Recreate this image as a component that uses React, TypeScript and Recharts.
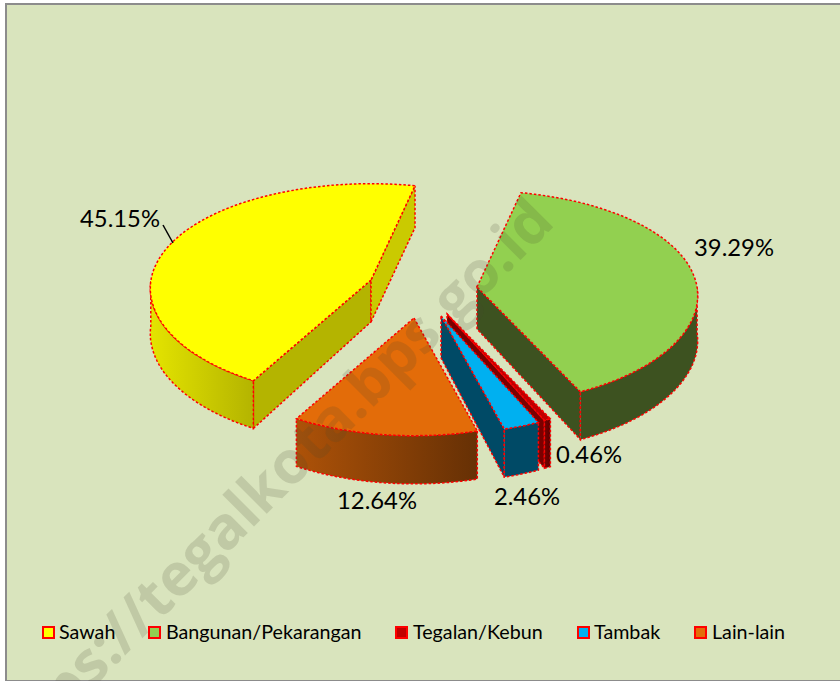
import { PieChart, Pie, Legend } from "recharts";

const names = ["Sawah", "Bangunan/Pekarangan", "Tegalan/Kebun", "Tambak", "Lain-lain"];
const shares = [45.15, 39.29, 0.46, 2.46, 12.64];
const topColors = ["#FFFF00", "#92D050", "#C00000", "#00B0F0", "#E36C09"];

const data = names.map((name, i) => ({ name, value: shares[i], fill: topColors[i] }));

// how far each slice is pulled away from the pie centre, plus its side colours
const sliceStyles = [
  { dx: -52, dy: -20, rimFrom: "#E4E400", rimTo: "#B4B400", startWall: "#B4B400", endWall: "#CACA00" },
  { dx: 54, dy: -13, rimFrom: "#3D5220", rimTo: "#3D5220", startWall: "#3D5220", endWall: "#3D5220" },
  { dx: 24, dy: 14, rimFrom: "#7A0000", rimTo: "#5A0000", startWall: "#7A0000", endWall: "#7A0000" },
  { dx: 18, dy: 16, rimFrom: "#004A66", rimTo: "#004A66", startWall: "#004A66", endWall: "#004A66" },
  { dx: -9, dy: 18, rimFrom: "#AD5208", rimTo: "#663005", startWall: "#8A4206", endWall: "#8A4206" },
];

const labelSpots = [
  { x: 120, y: 218 },
  { x: 734, y: 247 },
  { x: 589, y: 454 },
  { x: 527, y: 496 },
  { x: 377, y: 500 },
];

const legendSpots = [
  { icon: 42, text: 59 },
  { icon: 148, text: 166 },
  { icon: 395, text: 413 },
  { icon: 577, text: 594 },
  { icon: 694, text: 712 },
];

const PIE_X = 423;
const PIE_Y = 300;
const RADIUS_X = 220;
const RADIUS_Y = 107;
const WALL = 45;
const FONT = "Lato, sans-serif";

function project(angle: number, ax: number, ay: number) {
  const rad = (angle * Math.PI) / 180;
  const ux = Math.cos(rad);
  const uy = -Math.sin(rad);
  return {
    x: ax + RADIUS_X * ux * (1 + 0.08 * uy),
    y: ay + RADIUS_Y * uy * (1 + 0.1 * uy),
    drop: WALL * (1 + 0.07 * uy),
  };
}

const toPath = (pts: { x: number; y: number }[]) =>
  pts.map((p, i) => `${i ? "L" : "M"}${p.x.toFixed(1)} ${p.y.toFixed(1)}`).join(" ") + " Z";

function Slice3D(props: any) {
  const i = names.indexOf(props.name);
  const style = sliceStyles[i];
  const ax = props.cx + style.dx;
  const ay = props.cy + style.dy;
  const { startAngle, endAngle } = props;

  const steps = Math.max(3, Math.ceil(Math.abs(endAngle - startAngle) / 2));
  const arc = [];
  for (let s = 0; s <= steps; s++) {
    arc.push(project(startAngle + ((endAngle - startAngle) * s) / steps, ax, ay));
  }
  const first = arc[0];
  const last = arc[arc.length - 1];
  const mid = arc[Math.floor(steps / 2)];
  const apex = { x: ax, y: ay };
  const apexDrop = WALL * 0.93;

  const wallShows = (edge: { x: number; y: number }) => {
    const side = (px: number, py: number) =>
      (edge.x - apex.x) * (py - apex.y) - (edge.y - apex.y) * (px - apex.x);
    return side(apex.x, apex.y + apexDrop) * side(mid.x, mid.y) < 0;
  };
  const wallPath = (edge: any) =>
    toPath([apex, edge, { x: edge.x, y: edge.y + edge.drop }, { x: apex.x, y: apex.y + apexDrop }]);

  const front = arc.filter((p) => p.y > ay);
  const rim = [...front, ...[...front].reverse().map((p) => ({ x: p.x, y: p.y + p.drop }))];
  const gradId = `rim-${i}`;
  const dash = { stroke: "#FF0000", strokeWidth: 1.5, strokeDasharray: "2.5 2" };

  return (
    <g>
      <defs>
        <linearGradient id={gradId} x1="0" y1="0" x2="1" y2="0">
          <stop offset="0%" stopColor={style.rimFrom} />
          <stop offset="100%" stopColor={style.rimTo} />
        </linearGradient>
      </defs>
      {wallShows(first) && <path d={wallPath(first)} fill={style.startWall} {...dash} />}
      {wallShows(last) && <path d={wallPath(last)} fill={style.endWall} {...dash} />}
      {front.length > 1 && <path d={toPath(rim)} fill={`url(#${gradId})`} {...dash} />}
      <path d={toPath([apex, ...arc])} fill={props.fill} {...dash} />
    </g>
  );
}

function SliceLabel(props: any) {
  const i = names.indexOf(props.name);
  const spot = labelSpots[i];
  return (
    <g>
      {i === 0 && <line x1={163} y1={225} x2={173} y2={243} stroke="#000" strokeWidth={1.5} />}
      <text x={spot.x} y={spot.y} textAnchor="middle" dominantBaseline="central" fill="#000" fontFamily={FONT} fontSize={23.8}>
        {shares[i].toFixed(2)}%
      </text>
    </g>
  );
}

function LegendRow({ payload }: any) {
  return (
    <div style={{ position: "relative", height: 26, fontFamily: FONT, fontSize: 19.7, color: "#000" }}>
      {(payload || []).map((entry: any) => {
        const i = names.indexOf(entry.value);
        return (
          <span key={entry.value}>
            <span
              style={{
                position: "absolute",
                left: legendSpots[i].icon,
                top: 6,
                width: 9,
                height: 9,
                background: topColors[i],
                border: "2px solid #FF0000",
              }}
            />
            <span style={{ position: "absolute", left: legendSpots[i].text, top: 0, whiteSpace: "nowrap" }}>{entry.value}</span>
          </span>
        );
      })}
    </div>
  );
}

export default function App() {
  return (
    <div style={{ position: "absolute", left: 0, top: 0, width: 840, height: 681, overflow: "hidden", background: "#fff" }}>
      <div
        style={{
          position: "absolute",
          left: 5,
          top: 3,
          width: 835,
          height: 675,
          background: "#D9E4BD",
          borderLeft: "2px solid #8C8C8C",
          borderTop: "2px solid #8C8C8C",
          borderBottom: "2px solid #8C8C8C",
        }}
      />
      <div style={{ position: "absolute", left: 0, top: 0 }}>
        <PieChart width={840} height={681} margin={{ top: 0, right: 0, bottom: 0, left: 0 }}>
          <Pie
            data={data}
            dataKey="value"
            nameKey="name"
            cx={PIE_X}
            cy={PIE_Y}
            outerRadius={RADIUS_X}
            startAngle={-120}
            endAngle={-480}
            stroke="none"
            shape={Slice3D}
            label={SliceLabel}
            labelLine={false}
            isAnimationActive={false}
          />
          <Legend content={LegendRow} wrapperStyle={{ left: 0, top: 620, width: 840 }} />
        </PieChart>
      </div>
      <div
        style={{
          position: "absolute",
          left: 263,
          top: 485,
          transform: "translate(-50%, -50%) rotate(-45deg)",
          fontFamily: "'Open Sans', sans-serif",
          fontWeight: 700,
          fontSize: 59,
          color: "rgba(70, 70, 50, 0.17)",
          whiteSpace: "nowrap",
          pointerEvents: "none",
        }}
      >
        https://tegalkota.bps.go.id
      </div>
    </div>
  );
}
